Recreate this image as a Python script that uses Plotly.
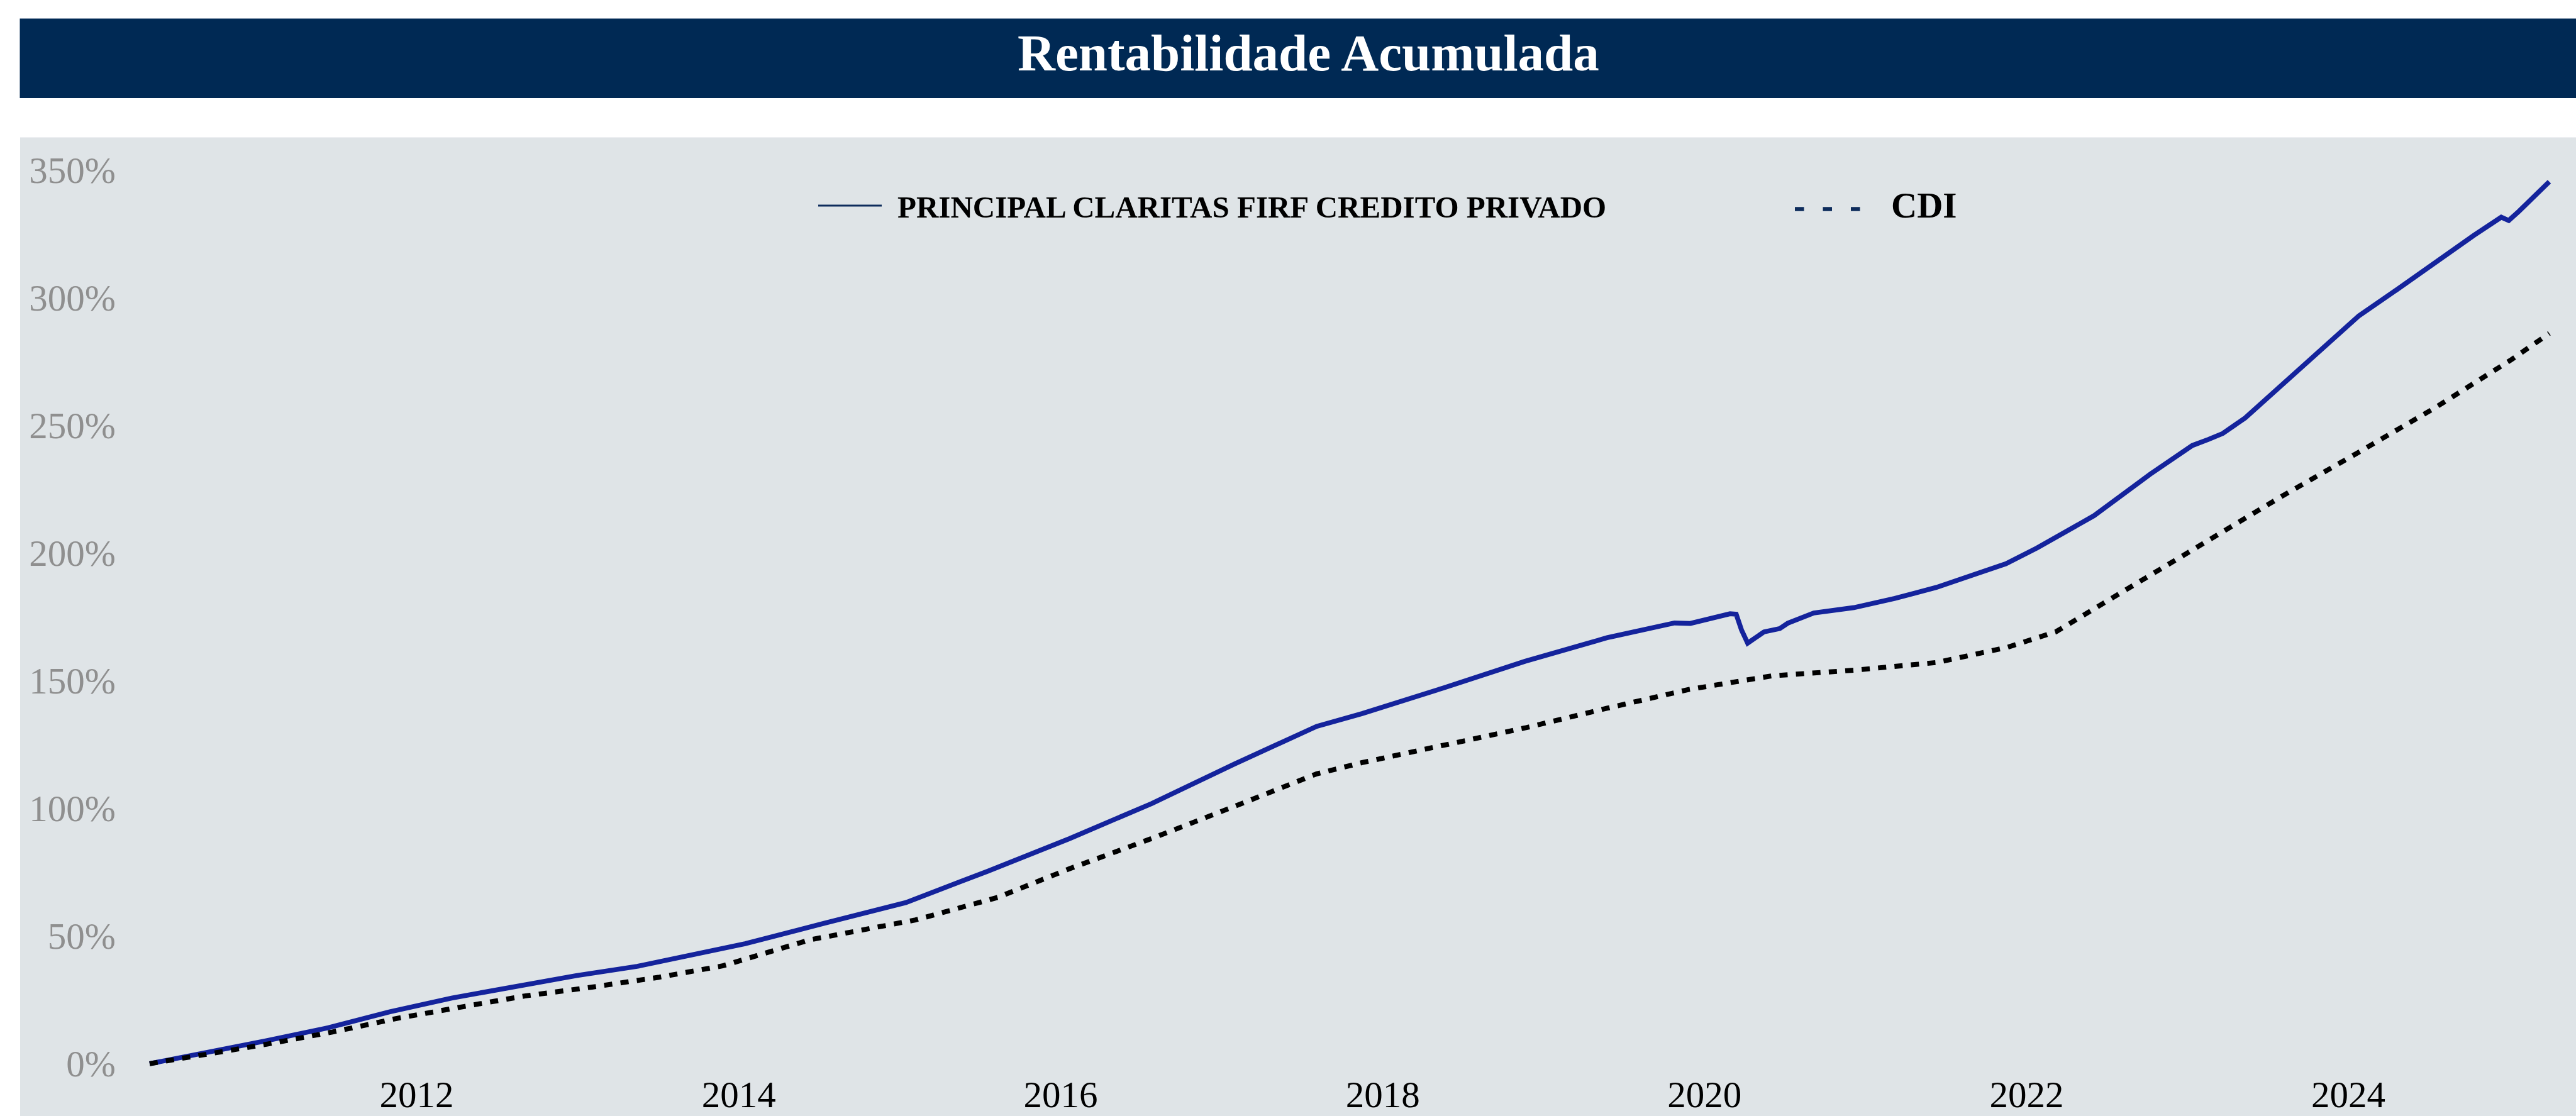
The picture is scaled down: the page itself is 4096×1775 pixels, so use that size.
import plotly.graph_objects as go
import pandas as pd

# ---------------- data ----------------
title_text = "Rentabilidade Acumulada"
fund_name = "PRINCIPAL CLARITAS FIRF CREDITO PRIVADO"
cdi_name = "CDI"

fund_dates = [
    "2010-05-05", "2010-09-10", "2011-01-25", "2011-06-15", "2011-11-01",
    "2012-03-20", "2012-08-08", "2012-12-28", "2013-05-15", "2013-10-01",
    "2014-01-15", "2014-07-12", "2015-01-15", "2015-07-20", "2016-01-22",
    "2016-07-26", "2017-01-30", "2017-08-04", "2017-11-15", "2018-05-18",
    "2018-11-20", "2019-05-25", "2019-10-25", "2019-11-30", "2020-02-28",
    "2020-03-13", "2020-03-25", "2020-04-08", "2020-05-15", "2020-06-20",
    "2020-07-08", "2020-09-05", "2020-12-05", "2021-03-08", "2021-06-10",
    "2021-09-10", "2021-11-15", "2022-01-25", "2022-06-03", "2022-10-08",
    "2023-01-12", "2023-02-18", "2023-03-22", "2023-05-12", "2023-07-01",
    "2023-09-16", "2024-01-25", "2024-04-20", "2024-07-16", "2024-10-12",
    "2024-12-13", "2024-12-30", "2025-01-22", "2025-03-08", "2025-04-01",
]
fund_values = [
    0.0, 4.2, 9.0, 14.1, 20.3,
    25.7, 30.2, 34.5, 38.1, 43.0,
    47.0, 54.9, 63.1, 75.4, 88.2,
    101.9, 117.4, 132.1, 137.1, 147.1,
    157.6, 166.8, 172.6, 172.4, 176.2,
    176.0, 169.9, 164.7, 169.1, 170.4,
    172.5, 176.5, 178.6, 182.2, 186.5,
    191.9, 195.8, 202.0, 214.6, 230.8,
    242.1, 244.5, 246.8, 252.9, 260.7,
    272.9, 292.9, 303.1, 313.8, 324.4,
    331.5, 330.2, 333.8, 341.2, 345.4,
]

cdi_dates = [
    "2010-05-05", "2011-01-25", "2011-06-24", "2011-11-22", "2012-04-18",
    "2012-09-02", "2013-02-02", "2013-07-02", "2013-11-25", "2014-01-22",
    "2014-06-11", "2015-02-06", "2015-08-11", "2016-01-22", "2016-07-26",
    "2017-01-30", "2017-08-04", "2017-11-15", "2018-05-18", "2018-11-20",
    "2019-05-25", "2019-11-28", "2020-06-03", "2020-12-06", "2021-06-10",
    "2021-09-28", "2021-11-15", "2022-03-08", "2022-08-29", "2023-02-17",
    "2023-08-08", "2024-01-25", "2024-07-16", "2025-01-05", "2025-04-01",
]
cdi_values = [
    0.0, 7.6, 12.4, 17.9, 22.4,
    26.5, 30.0, 33.8, 38.3, 41.2,
    48.5, 56.3, 65.1, 76.4, 88.2,
    100.8, 113.5, 117.9, 124.8, 131.5,
    139.2, 146.6, 151.9, 154.1, 157.1,
    161.2, 162.9, 169.1, 187.2, 204.6,
    222.7, 239.5, 256.9, 275.7, 286.0,
]

y_tick_values = [0, 50, 100, 150, 200, 250, 300, 350]
y_tick_labels = ["0%", "50%", "100%", "150%", "200%", "250%", "300%", "350%"]
x_tick_years = [2012, 2014, 2016, 2018, 2020, 2022, 2024]

# ---------------- layout geometry (px, body margin removed) ----------------
W, H = 4096, 1775
L, R, T, B = 200, 4090, 219, 1701


def px_x(px):
    return (px - L) / (R - L)


def px_y(py):
    return (B - py) / (B - T)


# y mapping: 0% at 1691.8 px, 350% at 270.3 px
y0_px, y350_px = 1691.8, 270.3
per_pct = (y0_px - y350_px) / 350.0
y_min = -(B - y0_px) / per_pct
y_max = 350 + (y350_px - T) / per_pct

# x mapping: 2012-01-01 at 662.6 px, 2024-01-01 at 3734 px
origin = pd.Timestamp("2012-01-01")
x0_px = 662.6
per_year = (3734.0 - x0_px) / 12.0
x_min = origin + pd.Timedelta(days=(L - x0_px) / per_year * 365.25)
x_max = origin + pd.Timedelta(days=(R - x0_px) / per_year * 365.25)

BG = "#DFE4E7"
NAVY = "#002954"
LEG_NAVY = "#0E2C5C"
FUND_COLOR = "#14239C"
SERIF = "Liberation Serif, Times New Roman, serif"

fig = go.Figure()
fig.add_trace(go.Scatter(
    x=fund_dates, y=fund_values, mode="lines", name=fund_name,
    line=dict(color=FUND_COLOR, width=7.7), showlegend=False,
))
fig.add_trace(go.Scatter(
    x=cdi_dates, y=cdi_values, mode="lines", name=cdi_name,
    line=dict(color="black", width=7.9, dash="13px,13.2px"), showlegend=False,
))

shapes = [
    dict(type="rect", xref="paper", yref="paper", layer="below",
         x0=px_x(32), x1=px_x(W + 20), y0=px_y(H + 20), y1=px_y(218.5),
         fillcolor=BG, line=dict(width=0)),
    dict(type="rect", xref="paper", yref="paper", layer="above",
         x0=px_x(31.5), x1=px_x(W + 20), y0=px_y(156), y1=px_y(29.5),
         fillcolor=NAVY, line=dict(width=0)),
    dict(type="line", xref="paper", yref="paper",
         x0=px_x(1301), x1=px_x(1402), y0=px_y(327), y1=px_y(327),
         line=dict(color=LEG_NAVY, width=3)),
    dict(type="line", xref="paper", yref="paper",
         x0=px_x(2854), x1=px_x(2958), y0=px_y(332.6), y1=px_y(332.6),
         line=dict(color=LEG_NAVY, width=6.5, dash="14.5px,30px")),
]

annotations = [
    dict(text="<b>" + title_text + "</b>", xref="paper", yref="paper",
         x=px_x(2080), y=px_y(83.6), xanchor="center", yanchor="middle",
         showarrow=False, font=dict(family=SERIF, size=83, color="white")),
    dict(text="<b>" + fund_name + "</b>", xref="paper", yref="paper",
         x=px_x(1425), y=px_y(329.5), xanchor="left", yanchor="middle",
         showarrow=False, font=dict(family=SERIF, size=49, color="black")),
    dict(text="<b>" + cdi_name + "</b>", xref="paper", yref="paper",
         x=px_x(3005), y=px_y(326.5), xanchor="left", yanchor="middle",
         showarrow=False, font=dict(family=SERIF, size=57, color="black")),
]

fig.update_layout(
    width=W, height=H, autosize=False,
    margin=dict(l=L, r=W - R, t=T, b=H - B, pad=0, autoexpand=False),
    paper_bgcolor="white", plot_bgcolor=BG,
    shapes=shapes, annotations=annotations,
    showlegend=False,
    font=dict(family=SERIF),
)
fig.update_xaxes(
    type="date", range=[x_min, x_max], automargin=False,
    tickvals=[f"{y}-01-01" for y in x_tick_years],
    ticktext=[str(y) for y in x_tick_years],
    showgrid=False, zeroline=False, showline=False, ticks="",
    tickfont=dict(family=SERIF, size=59, color="black"),
)
fig.update_yaxes(
    range=[y_min, y_max], automargin=False,
    tickvals=y_tick_values, ticktext=y_tick_labels,
    showgrid=False, zeroline=False, showline=False, ticks="",
    ticklabelstandoff=15,
    tickfont=dict(family=SERIF, size=59, color="#8F8F8F"),
)

fig.write_html(
    "out.html",
    config={"displayModeBar": False},
    post_script="document.body.style.margin='0';document.body.style.overflow='hidden';",
)
